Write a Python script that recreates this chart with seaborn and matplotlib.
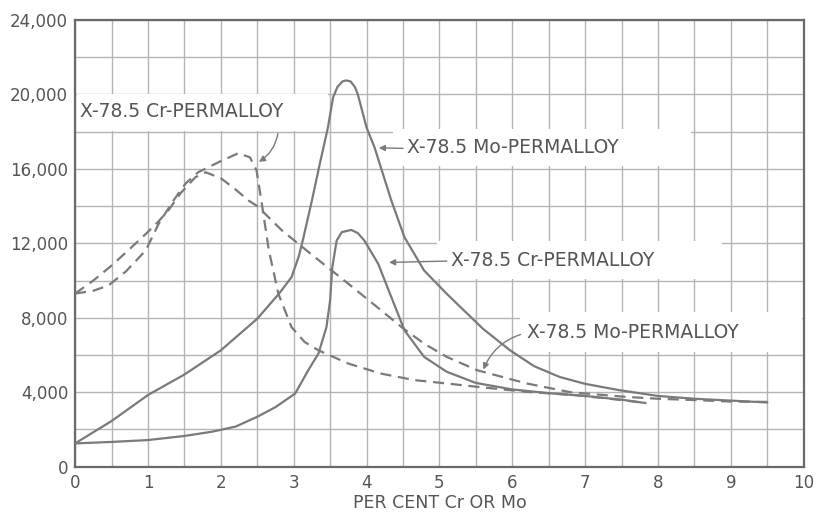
import matplotlib
matplotlib.use("Agg")
import matplotlib.pyplot as plt
import seaborn as sns
import pandas as pd
from matplotlib.patches import Rectangle

# ---- data ----
mo_solid_x = [0.0, 0.5, 1.0, 1.5, 2.0, 2.5, 2.8, 2.97, 3.07, 3.13, 3.25, 3.36, 3.47, 3.54, 3.6, 3.67,
              3.72, 3.78, 3.84, 3.88, 4.0, 4.11, 4.34, 4.52, 4.79, 5.1, 5.24, 5.6, 5.97, 6.3,
              6.65, 7.0, 7.47, 8.0, 8.5, 9.0, 9.5]
mo_solid_y = [1250, 2450, 3850, 4950, 6250, 7950, 9300, 10180, 11300, 12240, 14300, 16300, 18220, 19830,
              20400, 20700, 20750, 20700, 20400, 20010, 18220, 17150, 14300, 12330, 10540, 9290,
              8760, 7400, 6250, 5400, 4820, 4450, 4110, 3800, 3650, 3550, 3450]

cr_solid_x = [0.0, 0.5, 1.0, 1.5, 1.88, 2.2, 2.5, 2.75, 3.02, 3.2, 3.34, 3.45, 3.5, 3.53, 3.59, 3.66,
              3.79, 3.88, 3.97, 4.16, 4.34, 4.52, 4.79, 5.1, 5.5, 6.0, 6.5, 7.0, 7.5, 7.83]
cr_solid_y = [1250, 1330, 1430, 1650, 1880, 2150, 2680, 3200, 3930, 5180, 6080, 7500, 8940, 10720,
              12150, 12600, 12720, 12550, 12150, 10900, 9110, 7330, 5900, 5100, 4500, 4150, 3950,
              3800, 3600, 3420]

mo_dash_x = [0.0, 0.25, 0.5, 0.75, 0.98, 1.15, 1.28, 1.45, 1.65, 1.79, 2.0, 2.2, 2.38, 2.5, 2.84,
             3.29, 3.75, 4.2, 4.48, 4.79, 5.1, 5.52, 6.2, 6.8, 7.56, 8.0, 8.5, 9.0, 9.5]
mo_dash_y = [9300, 10000, 10800, 11700, 12540, 13200, 13770, 14700, 15550, 15820, 15500, 14900,
             14300, 14000, 12690, 11260, 9830, 8400, 7500, 6610, 5900, 5180, 4470, 4000, 3750,
             3650, 3580, 3500, 3480]

cr_dash_x = [0.0, 0.25, 0.46, 0.7, 0.97, 1.15, 1.35, 1.52, 1.69, 1.97, 2.24, 2.4, 2.49, 2.56, 2.66,
             2.79, 2.97, 3.15, 3.34, 3.75, 4.2, 4.66, 5.1, 5.52, 6.2, 6.88, 7.52, 7.83]
cr_dash_y = [9300, 9450, 9740, 10500, 11620, 13070, 14300, 15230, 15820, 16360, 16840, 16620, 15920,
             14200, 11610, 9290, 7500, 6700, 6250, 5540, 5000, 4650, 4470, 4290, 4020, 3840, 3570,
             3420]

x_ticks = [0, 1, 2, 3, 4, 5, 6, 7, 8, 9, 10]
x_tick_labels = ["0", "1", "2", "3", "4", "5", "6", "7", "8", "9", "10"]
y_ticks = [0, 4000, 8000, 12000, 16000, 20000, 24000]
y_tick_labels = ["0", "4,000", "8,000", "12,000", "16,000", "20,000", "24,000"]
x_label = "PER CENT Cr OR Mo"
label_cr = "X-78.5 Cr-PERMALLOY"
label_mo = "X-78.5 Mo-PERMALLOY"

# ---- styling ----
sns.set_style("white")
plt.rcParams['font.family'] = ['DejaVu Sans']
line_c = "#7a7a7a"
grid_c = "#b4b4b4"
text_c = "#555555"

fig = plt.figure(figsize=(8.16, 5.12), dpi=100)
ax = fig.add_axes([0.092, 0.0885, 0.893, 0.8725])

def draw(xs, ys, ls):
    df = pd.DataFrame({"x": xs, "y": ys})
    sns.lineplot(data=df, x="x", y="y", ax=ax, color=line_c, lw=1.6, linestyle=ls,
                 sort=False, estimator=None, zorder=3)

draw(mo_solid_x, mo_solid_y, "-")
draw(cr_solid_x, cr_solid_y, "-")
draw(mo_dash_x, mo_dash_y, (0, (5, 3)))
draw(cr_dash_x, cr_dash_y, (0, (5, 3)))

ax.set_xlim(0, 10)
ax.set_ylim(0, 24000)
ax.set_xticks(x_ticks)
ax.set_xticklabels(x_tick_labels)
ax.set_yticks(y_ticks)
ax.set_yticklabels(y_tick_labels)
ax.set_xticks([i * 0.5 for i in range(21)], minor=True)
ax.set_yticks([i * 2000 for i in range(13)], minor=True)
ax.grid(which="both", color=grid_c, lw=1.0, zorder=0)
ax.set_axisbelow(True)
ax.tick_params(which="both", length=0, labelsize=12, labelcolor=text_c, pad=5)
ax.set_xlabel(x_label, fontsize=12.5, color=text_c, labelpad=2)
ax.set_ylabel("")
for s in ax.spines.values():
    s.set_color("#6a6a6a")
    s.set_linewidth(1.6)

# label boxes (white, cover the grid)
def box(x0, y0, w, h):
    ax.add_patch(Rectangle((x0, y0), w, h, facecolor="white", edgecolor="none", zorder=1.5))

box(0.02, 18050, 3.45, 1970)
box(4.36, 16160, 4.09, 1990)
box(4.97, 10110, 3.91, 2040)
box(6.1, 6150, 3.88, 2140)

tkw = dict(fontsize=13.5, color=text_c, va="center", ha="left", zorder=4)
ax.text(0.07, 19060, label_cr, **tkw)
ax.text(4.56, 17130, label_mo, **tkw)
ax.text(5.16, 11080, label_cr, **tkw)
ax.text(6.2, 7220, label_mo, **tkw)

akw = dict(arrowstyle="-|>", color=line_c, lw=1.0, mutation_scale=9)
ax.annotate("", xy=(2.49, 16300), xytext=(2.79, 18050),
            arrowprops=dict(connectionstyle="arc3,rad=-0.25", **akw), zorder=4)
ax.annotate("", xy=(4.13, 17130), xytext=(4.54, 17100),
            arrowprops=dict(connectionstyle="arc3,rad=0", **akw), zorder=4)
ax.annotate("", xy=(4.27, 10970), xytext=(5.14, 11050),
            arrowprops=dict(connectionstyle="arc3,rad=0", **akw), zorder=4)
ax.annotate("", xy=(5.59, 5080), xytext=(6.15, 7150),
            arrowprops=dict(connectionstyle="arc3,rad=0.25", **akw), zorder=4)

fig.savefig("out.png", dpi=100, facecolor="white")
